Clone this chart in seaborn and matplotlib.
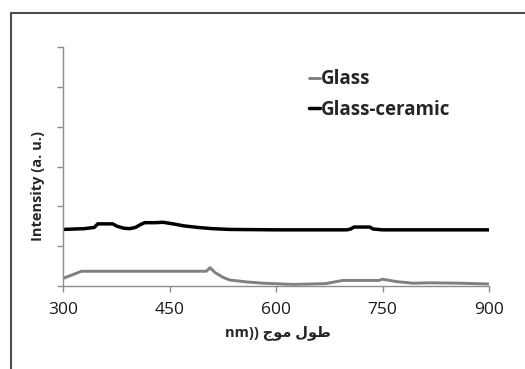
import matplotlib
matplotlib.use("Agg")
import matplotlib.pyplot as plt
from matplotlib.patches import Rectangle
from matplotlib.lines import Line2D
import seaborn as sns
import pandas as pd

# Emission spectra (arbitrary units)
glass_wl = [300, 326, 360, 400, 450, 502, 507, 514, 525, 535, 560, 582, 624, 670, 694, 720, 745, 750, 770, 793, 817, 860, 900]
glass_int = [0.19, 0.37, 0.37, 0.37, 0.37, 0.37, 0.46, 0.34, 0.22, 0.15, 0.10, 0.07, 0.04, 0.06, 0.14, 0.14, 0.14, 0.17, 0.11, 0.07, 0.08, 0.07, 0.05]

gc_wl = [300, 330, 344, 349, 370, 376, 386, 394, 402, 410, 415, 430, 441, 455, 470, 490, 510, 535, 600, 700, 705, 710, 732, 737, 750, 800, 900]
gc_int = [1.42, 1.44, 1.47, 1.56, 1.56, 1.50, 1.45, 1.44, 1.47, 1.55, 1.59, 1.59, 1.60, 1.56, 1.51, 1.47, 1.44, 1.42, 1.41, 1.41, 1.43, 1.48, 1.48, 1.43, 1.41, 1.41, 1.41]

series_names = ["Glass", "Glass-ceramic"]
series_colors = ["#808080", "#000000"]
x_ticks = [300, 450, 600, 750, 900]
y_ticks = [0, 1, 2, 3, 4, 5, 6]

df = pd.concat([
    pd.DataFrame({"wl": glass_wl, "val": glass_int, "series": series_names[0]}),
    pd.DataFrame({"wl": gc_wl, "val": gc_int, "series": series_names[1]}),
])

sns.set_style("white")
plt.rcParams["font.family"] = ["Open Sans", "DejaVu Sans"]

fig = plt.figure(figsize=(5.25, 3.69), dpi=100)
fig.patch.set_facecolor("white")
ax = fig.add_axes([63 / 525, 1 - 286 / 369, 426 / 525, 239 / 369])

sns.lineplot(data=df, x="wl", y="val", hue="series", palette=series_colors,
             hue_order=series_names, ax=ax, sort=False, estimator=None, legend=False)
lws = [2.1, 2.5]
for line, lw in zip(ax.get_lines(), lws):
    line.set_linewidth(lw)
    line.set_solid_capstyle("butt")

ax.set_xlim(300, 900)
ax.set_ylim(0, 6)
ax.set_xticks(x_ticks)
ax.set_xticklabels([str(t) for t in x_ticks])
ax.set_yticks(y_ticks)
ax.set_yticklabels([])
for s in ["top", "right"]:
    ax.spines[s].set_visible(False)
for s in ["left", "bottom"]:
    ax.spines[s].set_color("#8c8c8c")
    ax.spines[s].set_linewidth(1.0)
ax.tick_params(axis="both", which="major", left=True, bottom=True, direction="out",
               length=4.5, width=1.0, color="#8c8c8c",
               labelsize=12.5, labelcolor="#1a1a1a", pad=7)

ax.set_ylabel("Intensity (a. u.)", fontsize=10.5, fontweight="bold")
ax.yaxis.set_label_coords(-25 / 426, (286 - 186) / 239)
ax.yaxis.label.set_va("center")
# Persian axis title laid out in visual (left-to-right) order with presentation forms
xlabel = "nm)) \uFE9D\uFEEE\uFEE3 \uFEDD\uFEEE\uFEC3"
ax.set_xlabel(xlabel, fontsize=10.5, fontweight="bold",
              family=["Open Sans", "DejaVu Sans"])
ax.xaxis.set_label_coords((278 - 63) / 426, (286 - 333) / 239)
ax.xaxis.label.set_va("center")

handles = [Line2D([], [], color=c, lw=lw) for c, lw in zip(series_colors, lws)]
ax.legend(handles, series_names, loc="upper left", bbox_to_anchor=(301 / 525, 1 - 62 / 369),
          bbox_transform=fig.transFigure, frameon=False, handlelength=0.6,
          handletextpad=0.05, labelspacing=0.55, borderaxespad=0,
          prop={"family": ["Open Sans", "DejaVu Sans"], "weight": "bold", "size": 13.5})

# outer frame
fig.add_artist(Rectangle((11 / 525, -0.1), 1.2, 1.1 - 13 / 369, transform=fig.transFigure,
                         fill=False, edgecolor="#4d4d4d", lw=1.5))

fig.savefig("out.png", dpi=100, facecolor="white")
